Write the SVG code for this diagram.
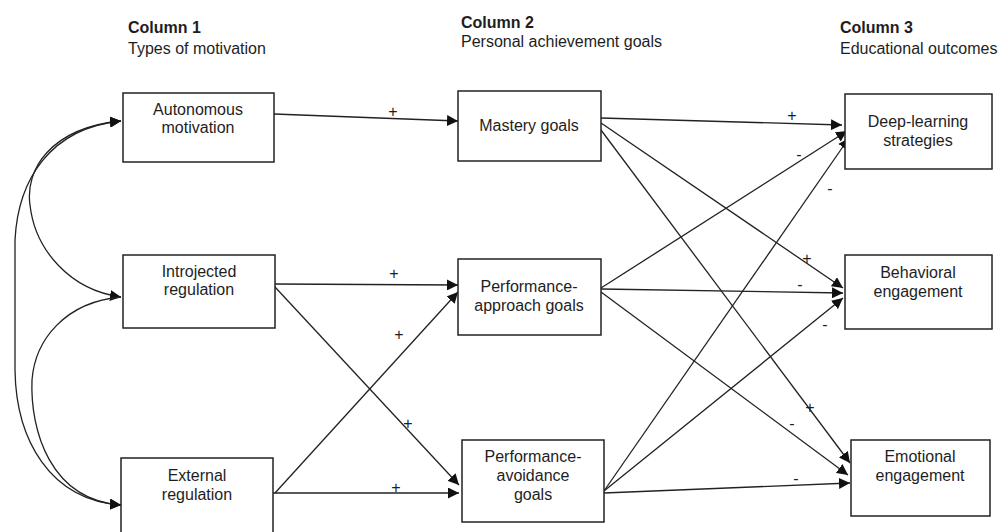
<svg xmlns="http://www.w3.org/2000/svg" width="1004" height="532" viewBox="0 0 1004 532">
<style>
text{font-family:"Liberation Sans",Arial,sans-serif;font-size:16px;fill:#1e1e1e}
.h{font-weight:bold}
.c{text-anchor:middle}
.box{fill:#fff;stroke:#222;stroke-width:1.5}
.ln{fill:none;stroke:#222;stroke-width:1.3}
.ar{marker-end:url(#ah)}
.sg{text-anchor:middle;font-size:16px}
</style>
<defs>
<marker id="ah" markerUnits="userSpaceOnUse" markerWidth="11" markerHeight="11" refX="10" refY="5" orient="auto-start-reverse" viewBox="0 0 10 10">
<path d="M0,0 L10,5 L0,10 z" fill="#111"/>
</marker>
</defs>
<rect width="1004" height="532" fill="#fff"/>
<g id="headers">
<text class="h" x="128" y="33">Column 1</text>
<text x="128" y="54">Types of motivation</text>
<text class="h" x="461" y="28">Column 2</text>
<text x="461" y="47">Personal achievement goals</text>
<text class="h" x="840" y="33">Column 3</text>
<text x="840" y="54">Educational outcomes</text>
</g>
<g id="connectors">
<path class="ln" marker-start="url(#ah)" marker-end="url(#ah)" d="M121,121 C50,128 25,170 30,205 C35,250 70,290 121,297"/>
<path class="ln" marker-start="url(#ah)" marker-end="url(#ah)" d="M121,121 C50,128 18,180 15,240 L15,370 C16,440 50,500 121,505"/>
<path class="ln" marker-end="url(#ah)" d="M121,297 C65,302 35,340 32,380 C30,430 50,500 121,505"/>
<line class="ln ar" x1="274" y1="114" x2="458" y2="121"/>
<line class="ln ar" x1="275" y1="284" x2="458" y2="285"/>
<line class="ln ar" x1="275" y1="493" x2="458" y2="292"/>
<line class="ln ar" x1="275" y1="287" x2="459" y2="485"/>
<line class="ln ar" x1="273" y1="493" x2="459" y2="493"/>
<line class="ln ar" x1="601" y1="118" x2="842" y2="125"/>
<line class="ln ar" x1="601" y1="123" x2="843" y2="288"/>
<line class="ln ar" x1="601" y1="130" x2="850" y2="463"/>
<line class="ln ar" x1="601" y1="288" x2="847" y2="131"/>
<line class="ln ar" x1="601" y1="289" x2="843" y2="293"/>
<line class="ln ar" x1="601" y1="292" x2="848" y2="475"/>
<line class="ln ar" x1="604" y1="491" x2="849" y2="138"/>
<line class="ln ar" x1="604" y1="491" x2="843" y2="298"/>
<line class="ln ar" x1="604" y1="493" x2="850" y2="483"/>
</g>
<g id="signs">
<text class="sg" x="393" y="116.5">+</text>
<text class="sg" x="394" y="278.5">+</text>
<text class="sg" x="399" y="339.5">+</text>
<text class="sg" x="408" y="428.5">+</text>
<text class="sg" x="396" y="492.5">+</text>
<text class="sg" x="792" y="121">+</text>
<text class="sg" x="799" y="159.5">-</text>
<text class="sg" x="830" y="193.5">-</text>
<text class="sg" x="807" y="263.5">+</text>
<text class="sg" x="800" y="289.5">-</text>
<text class="sg" x="825" y="329.5">-</text>
<text class="sg" x="810" y="412.5">+</text>
<text class="sg" x="792" y="428.5">-</text>
<text class="sg" x="796" y="483.5">-</text>
</g>
<g id="autonomous">
<rect class="box" x="123" y="93" width="151" height="69"/>
<text class="c" x="198" y="115">Autonomous</text>
<text class="c" x="198" y="133">motivation</text>
</g>
<g id="introjected">
<rect class="box" x="123" y="255" width="152" height="73"/>
<text class="c" x="199" y="277">Introjected</text>
<text class="c" x="199" y="295">regulation</text>
</g>
<g id="external">
<rect class="box" x="121" y="458" width="152" height="80"/>
<text class="c" x="197" y="481">External</text>
<text class="c" x="197" y="500">regulation</text>
</g>
<g id="mastery">
<rect class="box" x="458" y="91" width="143" height="70"/>
<text class="c" x="529" y="131">Mastery goals</text>
</g>
<g id="perf-approach">
<rect class="box" x="458" y="259" width="143" height="76"/>
<text class="c" x="529" y="292">Performance-</text>
<text class="c" x="529" y="311">approach goals</text>
</g>
<g id="perf-avoidance">
<rect class="box" x="462" y="440" width="142" height="82"/>
<text class="c" x="533" y="462">Performance-</text>
<text class="c" x="533" y="481">avoidance</text>
<text class="c" x="533" y="500">goals</text>
</g>
<g id="deep-learning">
<rect class="box" x="845" y="94" width="147" height="75"/>
<text class="c" x="918" y="127">Deep-learning</text>
<text class="c" x="918" y="146">strategies</text>
</g>
<g id="behavioral">
<rect class="box" x="845" y="255" width="147" height="74"/>
<text class="c" x="918" y="278">Behavioral</text>
<text class="c" x="918" y="297">engagement</text>
</g>
<g id="emotional">
<rect class="box" x="851" y="440" width="139" height="76"/>
<text class="c" x="920" y="462">Emotional</text>
<text class="c" x="920" y="481">engagement</text>
</g>
</svg>
